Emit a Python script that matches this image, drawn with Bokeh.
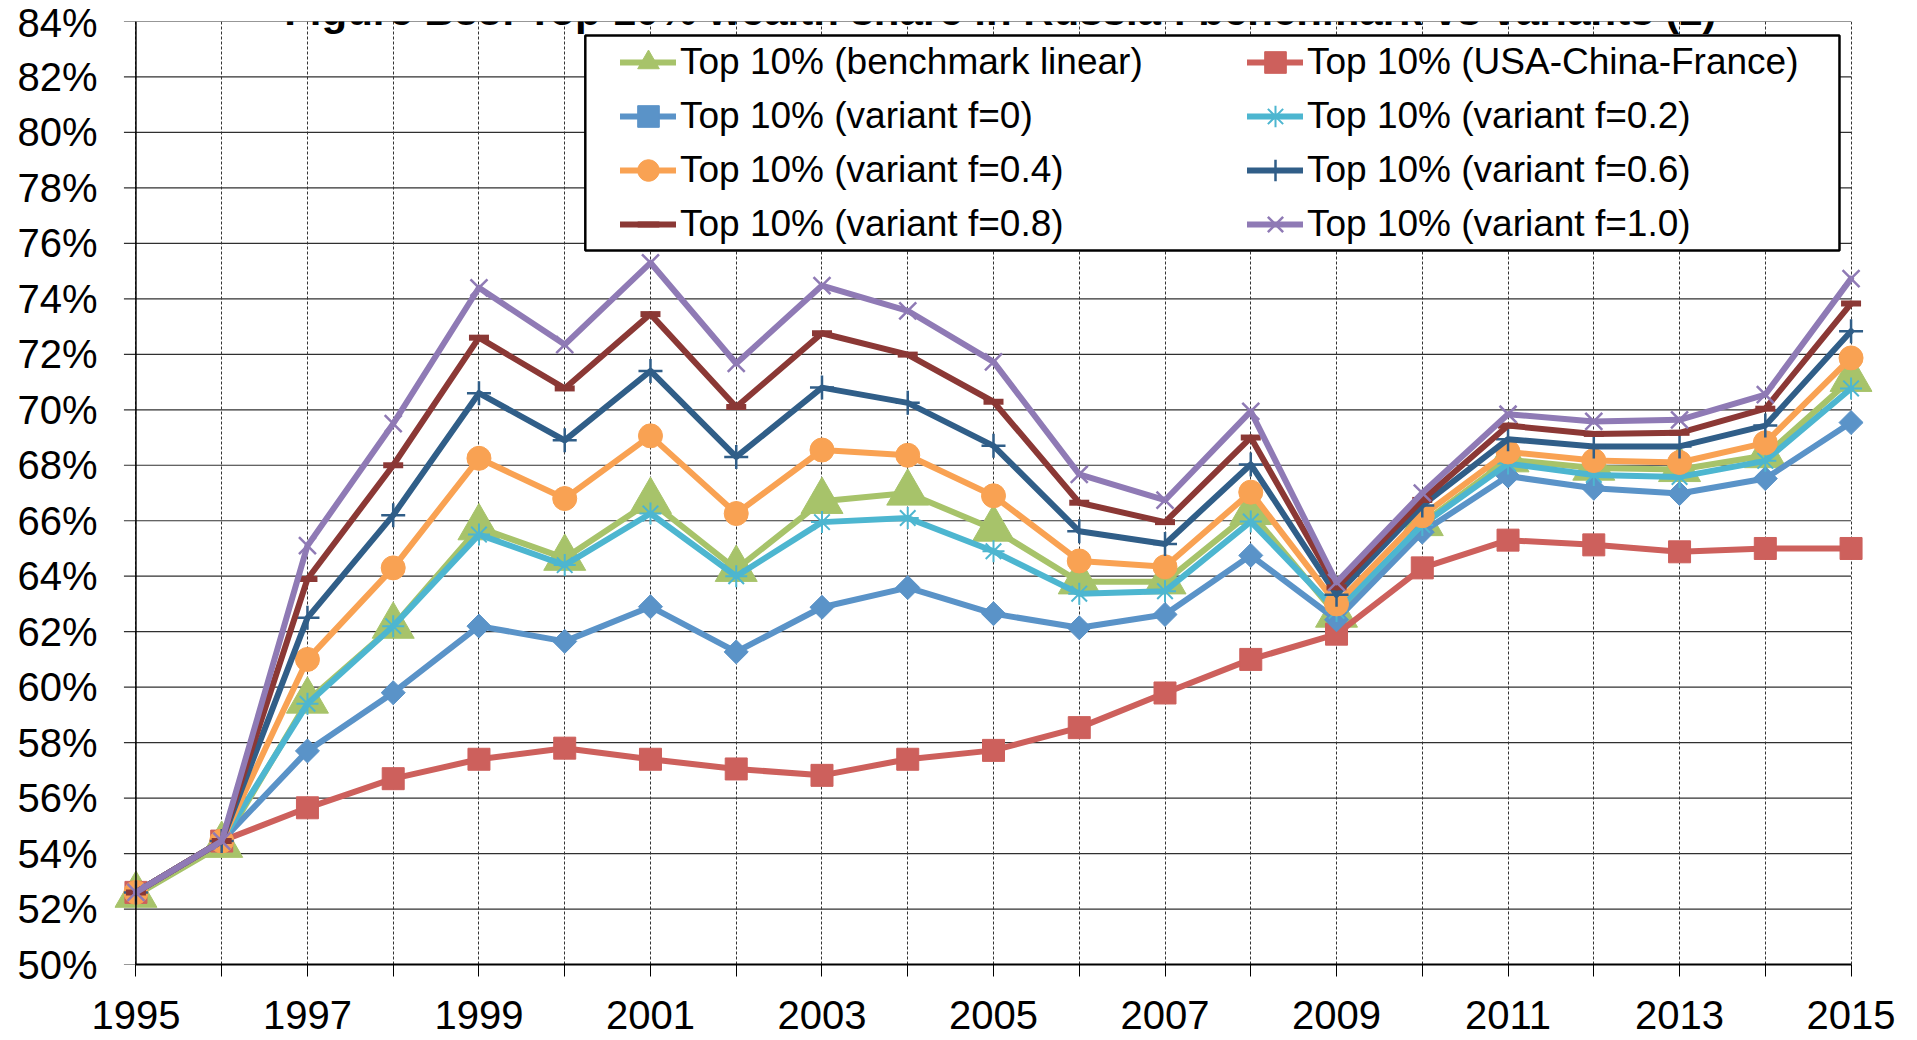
import numpy as np
from bokeh.plotting import figure
from bokeh.models import (Range1d, FixedTicker, Legend, LegendItem, Label, Span,
                          BoxAnnotation)
from bokeh.embed import file_html
from bokeh.resources import INLINE

TITLE = "Figure B33: Top 10% wealth share in Russia : benchmark vs variants (2)"

YEARS = list(range(1995, 2016))
X_TICK_LABELS = [str(y) if (y - 1995) % 2 == 0 else "" for y in YEARS]
Y_TICKS = list(range(50, 86, 2))
Y_TICK_LABELS = [f"{t}%" for t in Y_TICKS]

benchmark = [52.5, 54.3, 59.5, 62.2, 65.75, 64.65, 66.7, 64.25, 66.7, 67.0, 65.7,
             63.8, 63.8, 66.3, 62.6, 65.9, 68.2, 67.9, 67.85, 68.35, 71.1]
usa_china_france = [52.6, 54.45, 55.65, 56.7, 57.4, 57.8, 57.4, 57.05, 56.82, 57.4, 57.72,
                    58.54, 59.79, 61.0, 61.91, 64.3, 65.3, 65.13, 64.88, 65.0, 65.0]
f00 = [52.6, 54.45, 57.7, 59.8, 62.2, 61.65, 62.9, 61.27, 62.88, 63.59, 62.65,
       62.14, 62.62, 64.75, 62.43, 65.59, 67.61, 67.17, 66.98, 67.52, 69.54]
f02 = [52.6, 54.45, 59.4, 62.2, 65.5, 64.4, 66.26, 64.0, 65.95, 66.1, 64.9,
       63.37, 63.46, 65.97, 62.75, 65.85, 68.06, 67.65, 67.58, 68.16, 70.77]
f04 = [52.6, 54.45, 61.0, 64.3, 68.25, 66.8, 69.06, 66.26, 68.55, 68.36, 66.9,
       64.55, 64.34, 67.03, 63.0, 66.18, 68.48, 68.17, 68.1, 68.81, 71.87]
f06 = [52.6, 54.45, 62.5, 66.2, 70.6, 68.9, 71.4, 68.3, 70.8, 70.25, 68.7,
       65.62, 65.16, 68.03, 63.33, 66.55, 68.94, 68.68, 68.68, 69.43, 72.83]
f08 = [52.6, 54.45, 63.9, 68.0, 72.6, 70.77, 73.45, 70.1, 72.76, 71.99, 70.29,
       66.65, 65.95, 69.0, 63.6, 66.75, 69.43, 69.13, 69.17, 70.04, 73.83]
f10 = [52.6, 54.45, 65.1, 69.5, 74.4, 72.35, 75.3, 71.67, 74.48, 73.57, 71.73,
       67.67, 66.74, 69.94, 63.78, 67.0, 69.84, 69.58, 69.64, 70.55, 74.73]

LABELS = ["Top 10% (benchmark linear)", "Top 10% (USA-China-France)",
          "Top 10% (variant f=0)", "Top 10% (variant f=0.2)",
          "Top 10% (variant f=0.4)", "Top 10% (variant f=0.6)",
          "Top 10% (variant f=0.8)", "Top 10% (variant f=1.0)"]
SERIES = [benchmark, usa_china_france, f00, f02, f04, f06, f08, f10]
COLORS = ["#A7C36A", "#CD605C", "#5A93C8", "#4DB6D0", "#F9A253", "#305E88", "#8B3835", "#8F7AB5"]
# marker, size, angle, marker line width, filled
MARKERS = [("triangle", 42, 0.0, 1, True),
           ("square", 22, 0.0, 1, True),
           ("square", 17, np.pi / 4, 1, True),
           ("asterisk", 22, 0.0, 2, False),
           ("circle", 24, 0.0, 1, True),
           ("cross", 24, 0.0, 2.5, False),
           ("dash", 20, 0.0, 6, False),
           ("x", 24, 0.0, 2.5, False)]

FONT = "Liberation Sans"

p = figure(width=1917, height=1040, output_backend="svg", toolbar_location=None,
           title_location=None,
           x_range=Range1d(1994.75, 2015.25), y_range=Range1d(50, 84),
           min_border_left=114, min_border_right=45, min_border_top=21,
           min_border_bottom=76)
p.outline_line_color = None
p.background_fill_color = "white"
p.border_fill_color = "white"

# x axis
p.xaxis.ticker = FixedTicker(ticks=YEARS)
p.xaxis.major_label_overrides = {y: lab for y, lab in zip(YEARS, X_TICK_LABELS)}
p.xaxis.bounds = (1995, 2015)
p.xaxis.major_tick_out = 12
p.xaxis.major_tick_in = 0
p.xaxis.minor_tick_out = 0
p.xaxis.minor_tick_in = 0
p.xaxis.axis_line_width = 2
p.xaxis.axis_line_color = "black"
p.xaxis.major_tick_line_color = "black"
p.xaxis.major_label_text_font = FONT
p.xaxis.major_label_text_font_size = "40px"
p.xaxis.major_label_text_color = "black"
p.xaxis.major_label_standoff = 24

# y axis
p.yaxis.ticker = FixedTicker(ticks=Y_TICKS)
p.yaxis.major_label_overrides = {t: lab for t, lab in zip(Y_TICKS, Y_TICK_LABELS)}
p.yaxis.axis_line_color = None
p.yaxis.major_tick_out = 0
p.yaxis.major_tick_in = 0
p.yaxis.minor_tick_out = 0
p.yaxis.minor_tick_in = 0
p.yaxis.major_label_text_font = FONT
p.yaxis.major_label_text_font_size = "40px"
p.yaxis.major_label_text_color = "black"
p.yaxis.major_label_standoff = 17

# grids
p.xgrid.grid_line_color = "#333333"
p.xgrid.grid_line_dash = "3 2"
p.xgrid.grid_line_width = 1
p.ygrid.grid_line_color = None

grid_x0 = YEARS[0] - 12 / 85.76
p.segment(x0=[grid_x0] * len(Y_TICKS), x1=[YEARS[-1]] * len(Y_TICKS),
          y0=Y_TICKS, y1=Y_TICKS, line_color="#303030", line_width=1.2, level="underlay")
p.add_layout(Span(location=YEARS[0], dimension="height", line_color="black", line_width=1.5))

renderers = []
for vals, col, (mk, sz, ang, mlw, filled) in zip(SERIES, COLORS, MARKERS):
    lr = p.line(YEARS, vals, line_color=col, line_width=6, line_join="round", line_cap="round")
    sr = p.scatter(YEARS, vals, marker=mk, size=sz, angle=ang,
                   line_color=col, line_width=mlw,
                   fill_color=col if filled else None)
    renderers.append([lr, sr])

# legend box
p.add_layout(BoxAnnotation(left=2000.24, right=2014.865, top=83.495, bottom=75.745,
                           fill_color="white", fill_alpha=1.0,
                           line_color="black", line_alpha=1.0, line_width=2.5))

def make_legend(idx, vx):
    items = [LegendItem(label=LABELS[i], renderers=renderers[i]) for i in idx]
    return Legend(items=items, location=(vx, 713), orientation="vertical",
                  border_line_color=None, background_fill_alpha=0.0,
                  glyph_width=56, glyph_height=54, label_height=54,
                  label_standoff=4, spacing=0, padding=0, margin=0,
                  label_text_font=FONT, label_text_font_size="37px",
                  label_text_color="black")

p.add_layout(make_legend([0, 2, 4, 6], 506))
p.add_layout(make_legend([1, 3, 5, 7], 1133))

p.add_layout(Label(x=2005.08, y=84.39, text=TITLE, text_font=FONT, text_font_style="bold",
                   text_font_size="42px", text_align="center", text_baseline="alphabetic",
                   text_color="black"))

open("out.html", "w").write(file_html(p, INLINE))
